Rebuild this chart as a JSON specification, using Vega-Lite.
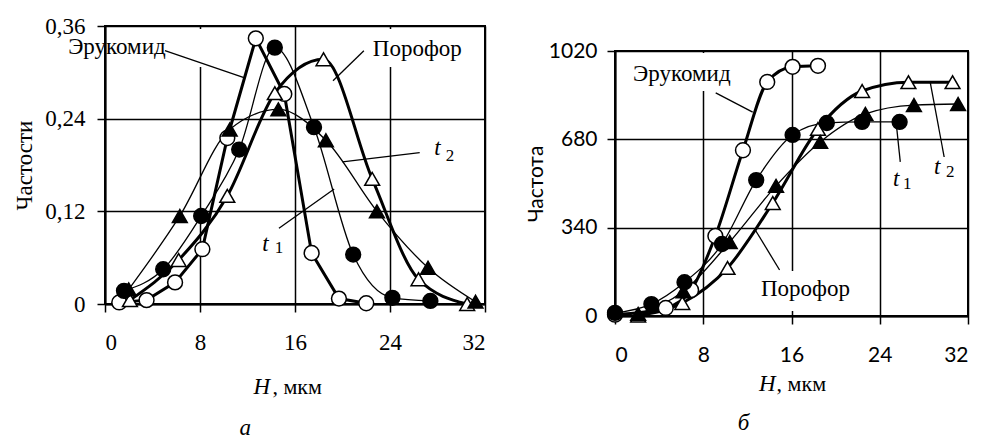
{
 "$schema": "https://vega.github.io/schema/vega-lite/v6.json",
 "padding": {"top": 14, "left": 12, "right": 0, "bottom": 0},
 "background": "white",
 "spacing": 37,
 "config": {
  "view": {"stroke": "black", "strokeWidth": 2},
  "axis": {"domainColor": "black", "domainWidth": 2, "gridColor": "black", "gridWidth": 1.5, "gridOpacity": 1, "tickColor": "black", "tickWidth": 1.5, "tickSize": 8, "labelColor": "black", "titleColor": "black", "titleFontWeight": "normal", "labelFontSize": 23, "labelFont": "Liberation Serif", "titleFont": "Liberation Serif", "titleFontSize": 23, "labelPadding": 10}
 },
 "datasets": {
  "aPts": [
   {"s": "Эрукомид", "x": 1.2, "y": 0.002}, {"s": "Эрукомид", "x": 3.5, "y": 0.005}, {"s": "Эрукомид", "x": 5.9, "y": 0.028}, {"s": "Эрукомид", "x": 8.2, "y": 0.071}, {"s": "Эрукомид", "x": 10.3, "y": 0.215}, {"s": "Эрукомид", "x": 12.7, "y": 0.344}, {"s": "Эрукомид", "x": 15.1, "y": 0.272}, {"s": "Эрукомид", "x": 17.4, "y": 0.066}, {"s": "Эрукомид", "x": 19.7, "y": 0.007}, {"s": "Эрукомид", "x": 22.0, "y": 0.001},
   {"s": "Порофор", "x": 2.1, "y": 0.005}, {"s": "Порофор", "x": 6.2, "y": 0.057}, {"s": "Порофор", "x": 10.3, "y": 0.14}, {"s": "Порофор", "x": 14.3, "y": 0.273}, {"s": "Порофор", "x": 18.4, "y": 0.317}, {"s": "Порофор", "x": 22.5, "y": 0.162}, {"s": "Порофор", "x": 26.4, "y": 0.032}, {"s": "Порофор", "x": 30.5, "y": 0.0},
   {"s": "t1", "x": 1.6, "y": 0.017}, {"s": "t1", "x": 4.9, "y": 0.045}, {"s": "t1", "x": 8.1, "y": 0.114}, {"s": "t1", "x": 11.3, "y": 0.2}, {"s": "t1", "x": 14.3, "y": 0.332}, {"s": "t1", "x": 17.6, "y": 0.229}, {"s": "t1", "x": 20.9, "y": 0.064}, {"s": "t1", "x": 24.2, "y": 0.008}, {"s": "t1", "x": 27.4, "y": 0.004},
   {"s": "t2", "x": 2.0, "y": 0.019}, {"s": "t2", "x": 6.3, "y": 0.114}, {"s": "t2", "x": 10.5, "y": 0.226}, {"s": "t2", "x": 14.6, "y": 0.252}, {"s": "t2", "x": 18.6, "y": 0.212}, {"s": "t2", "x": 22.9, "y": 0.12}, {"s": "t2", "x": 27.2, "y": 0.047}, {"s": "t2", "x": 31.2, "y": 0.003}
  ],
  "bPts": [
   {"s": "Эрукомид", "x": 0, "y": 5}, {"s": "Эрукомид", "x": 4.6, "y": 31}, {"s": "Эрукомид", "x": 6.9, "y": 100}, {"s": "Эрукомид", "x": 9.1, "y": 308}, {"s": "Эрукомид", "x": 11.6, "y": 638}, {"s": "Эрукомид", "x": 13.8, "y": 901}, {"s": "Эрукомид", "x": 16.1, "y": 959}, {"s": "Эрукомид", "x": 18.4, "y": 963},
   {"s": "Порофор", "x": 2.1, "y": 2}, {"s": "Порофор", "x": 6.1, "y": 50}, {"s": "Порофор", "x": 10.2, "y": 185}, {"s": "Порофор", "x": 14.3, "y": 435}, {"s": "Порофор", "x": 18.4, "y": 720}, {"s": "Порофор", "x": 22.4, "y": 866}, {"s": "Порофор", "x": 26.6, "y": 900}, {"s": "Порофор", "x": 30.6, "y": 900},
   {"s": "t1", "x": 0, "y": 12}, {"s": "t1", "x": 3.3, "y": 46}, {"s": "t1", "x": 6.3, "y": 130}, {"s": "t1", "x": 9.7, "y": 277}, {"s": "t1", "x": 12.8, "y": 523}, {"s": "t1", "x": 16.1, "y": 697}, {"s": "t1", "x": 19.2, "y": 743}, {"s": "t1", "x": 22.4, "y": 747}, {"s": "t1", "x": 25.8, "y": 747},
   {"s": "t2", "x": 2.1, "y": 8}, {"s": "t2", "x": 6.2, "y": 95}, {"s": "t2", "x": 10.4, "y": 285}, {"s": "t2", "x": 14.6, "y": 501}, {"s": "t2", "x": 18.6, "y": 670}, {"s": "t2", "x": 22.7, "y": 778}, {"s": "t2", "x": 27.1, "y": 812}, {"s": "t2", "x": 31.1, "y": 816}
  ],
  "aBox": [
   {"x": 0.2, "x2": 8.6, "y": 0.356, "y2": 0.307},
   {"x": 22.1, "x2": 30.6, "y": 0.356, "y2": 0.307}
  ],
  "bBox": [
   {"x": 1.2, "x2": 11.1, "y": 1012, "y2": 866},
   {"x": 12.9, "x2": 21.5, "y": 173, "y2": 19}
  ],
  "aLead": [
   {"x": 5.05, "y": 0.328, "x2": 11.7, "y2": 0.293},
   {"x": 21.8, "y": 0.328, "x2": 19.2, "y2": 0.289},
   {"x": 26.5, "y": 0.196, "x2": 20.0, "y2": 0.184},
   {"x": 14.65, "y": 0.098, "x2": 19.3, "y2": 0.149}
  ],
  "bLead": [
   {"x": 9.13, "y": 859, "x2": 12.48, "y2": 785},
   {"x": 14.92, "y": 177, "x2": 12.66, "y2": 335},
   {"x": 25.86, "y": 593, "x2": 25.5, "y2": 739},
   {"x": 29.84, "y": 612, "x2": 28.57, "y2": 901}
  ],
  "aTxt": [
   {"k": "n", "t": "Эрукомид", "x": 1.0, "y": 0.333},
   {"k": "n", "t": "Порофор", "x": 26.3, "y": 0.33},
   {"k": "i", "t": "t", "x": 28.0, "y": 0.202},
   {"k": "i", "t": "t", "x": 13.5, "y": 0.078},
   {"k": "i", "t": "а", "x": 11.8, "y": -0.16},
   {"k": "s", "t": "2", "x": 29.05, "y": 0.192},
   {"k": "s", "t": "1", "x": 14.65, "y": 0.0725},
   {"k": "ir", "t": "H", "x": 13.9, "y": -0.108},
   {"k": "l", "t": ", мкм", "x": 14.1, "y": -0.108}
  ],
  "bTxt": [
   {"k": "n", "t": "Эрукомид", "x": 6.06, "y": 932},
   {"k": "n", "t": "Порофор", "x": 17.27, "y": 104},
   {"k": "i", "t": "t", "x": 25.5, "y": 527},
   {"k": "i", "t": "t", "x": 29.2, "y": 574},
   {"k": "i", "t": "б", "x": 11.66, "y": -410},
   {"k": "s", "t": "1", "x": 26.5, "y": 508},
   {"k": "s", "t": "2", "x": 30.4, "y": 554},
   {"k": "ir", "t": "H", "x": 14.56, "y": -262},
   {"k": "l", "t": ", мкм", "x": 14.65, "y": -262}
  ]
 },
 "hconcat": [
  {
   "width": 380, "height": 278,
   "encoding": {
    "x": {"field": "x", "type": "quantitative", "scale": {"domain": [0, 32], "nice": false, "zero": false}, "axis": {"values": [0, 8, 16, 24, 32], "title": null, "labelPadding": 19}},
    "y": {"field": "y", "type": "quantitative", "scale": {"domain": [0, 0.36], "nice": false}, "axis": {"values": [0, 0.12, 0.24, 0.36], "title": "Частости", "titlePadding": 8, "labelPadding": 12, "labelExpr": "datum.value == 0 ? '0' : replace(format(datum.value, '.2f'), '.', ',')"}}
   },
   "layer": [
    {"data": {"name": "aBox"}, "mark": {"type": "rect", "fill": "white"}, "encoding": {"x2": {"field": "x2"}, "y2": {"field": "y2"}}},
    {"data": {"name": "aPts"}, "transform": [{"filter": "datum.s == 'Эрукомид'"}], "mark": {"type": "line", "color": "black", "strokeWidth": 3, "interpolate": "linear"}, "encoding": {"detail": {"field": "s"}}},
    {"data": {"name": "aPts"}, "transform": [{"filter": "datum.s == 'Порофор'"}], "mark": {"type": "line", "color": "black", "strokeWidth": 3, "interpolate": "monotone"}, "encoding": {"detail": {"field": "s"}}},
    {"data": {"name": "aPts"}, "transform": [{"filter": "datum.s == 't1' || datum.s == 't2'"}], "mark": {"type": "line", "color": "black", "strokeWidth": 1.3, "interpolate": "monotone"}, "encoding": {"detail": {"field": "s"}}},
    {"data": {"name": "aLead"}, "mark": {"type": "rule", "color": "black", "strokeWidth": 1.3}, "encoding": {"x2": {"field": "x2"}, "y2": {"field": "y2"}}},
    {"data": {"name": "aPts"}, "mark": {"type": "point", "filled": true, "stroke": "black", "strokeWidth": 1.5, "size": 220, "opacity": 1},
     "encoding": {
      "shape": {"field": "s", "type": "nominal", "scale": {"domain": ["Эрукомид", "Порофор", "t1", "t2"], "range": ["circle", "triangle-up", "circle", "triangle-up"]}, "legend": null},
      "fill": {"field": "s", "type": "nominal", "scale": {"domain": ["Эрукомид", "Порофор", "t1", "t2"], "range": ["white", "white", "black", "black"]}, "legend": null}
     }},
    {"data": {"name": "aTxt"}, "transform": [{"filter": "datum.k == 'n'"}], "mark": {"type": "text", "font": "Liberation Serif", "fontSize": 23, "color": "black", "align": "center", "baseline": "middle"}, "encoding": {"text": {"field": "t"}}},
    {"data": {"name": "aTxt"}, "transform": [{"filter": "datum.k == 'i'"}], "mark": {"type": "text", "font": "Liberation Serif", "fontSize": 23, "fontStyle": "italic", "color": "black", "align": "center", "baseline": "middle"}, "encoding": {"text": {"field": "t"}}},
    {"data": {"name": "aTxt"}, "transform": [{"filter": "datum.k == 's'"}], "mark": {"type": "text", "font": "Liberation Serif", "fontSize": 17, "color": "black", "align": "center", "baseline": "middle"}, "encoding": {"text": {"field": "t"}}},
    {"data": {"name": "aTxt"}, "transform": [{"filter": "datum.k == 'ir'"}], "mark": {"type": "text", "font": "Liberation Serif", "fontSize": 23, "fontStyle": "italic", "color": "black", "align": "right", "baseline": "middle"}, "encoding": {"text": {"field": "t"}}},
    {"data": {"name": "aTxt"}, "transform": [{"filter": "datum.k == 'l'"}], "mark": {"type": "text", "font": "Liberation Serif", "fontSize": 22, "color": "black", "align": "left", "baseline": "middle"}, "encoding": {"text": {"field": "t"}}}
   ]
  },
  {
   "spacing": 12,
   "vconcat": [
    {
     "width": 353, "height": 1,
     "view": {"stroke": null},
     "data": {"values": [{"a": 1}]},
     "mark": {"type": "point", "opacity": 0, "size": 1},
     "encoding": {}
    },
    {
     "width": 353, "height": 265,
     "encoding": {
      "x": {"field": "x", "type": "quantitative", "scale": {"domain": [0, 32], "nice": false, "zero": false}, "axis": {"values": [0, 8, 16, 24, 32], "title": null, "labelFont": "Lato", "labelFontSize": 21, "labelPadding": 20}},
      "y": {"field": "y", "type": "quantitative", "scale": {"domain": [0, 1020], "nice": false}, "axis": {"values": [0, 340, 680, 1020], "format": "d", "title": "Частота", "titleFont": "Lato", "titleFontSize": 21, "titlePadding": 2, "labelFont": "Lato", "labelFontSize": 21, "labelPadding": 10}}
     },
     "layer": [
      {"data": {"name": "bBox"}, "mark": {"type": "rect", "fill": "white"}, "encoding": {"x2": {"field": "x2"}, "y2": {"field": "y2"}}},
      {"data": {"name": "bPts"}, "transform": [{"filter": "datum.s == 'Эрукомид' || datum.s == 'Порофор'"}], "mark": {"type": "line", "color": "black", "strokeWidth": 3, "interpolate": "monotone"}, "encoding": {"detail": {"field": "s"}}},
      {"data": {"name": "bPts"}, "transform": [{"filter": "datum.s == 't1' || datum.s == 't2'"}], "mark": {"type": "line", "color": "black", "strokeWidth": 1.3, "interpolate": "monotone"}, "encoding": {"detail": {"field": "s"}}},
      {"data": {"name": "bLead"}, "mark": {"type": "rule", "color": "black", "strokeWidth": 1.3}, "encoding": {"x2": {"field": "x2"}, "y2": {"field": "y2"}}},
      {"data": {"name": "bPts"}, "mark": {"type": "point", "filled": true, "stroke": "black", "strokeWidth": 1.5, "size": 220, "opacity": 1},
       "encoding": {
        "shape": {"field": "s", "type": "nominal", "scale": {"domain": ["Эрукомид", "Порофор", "t1", "t2"], "range": ["circle", "triangle-up", "circle", "triangle-up"]}, "legend": null},
        "fill": {"field": "s", "type": "nominal", "scale": {"domain": ["Эрукомид", "Порофор", "t1", "t2"], "range": ["white", "white", "black", "black"]}, "legend": null}
       }},
      {"data": {"name": "bTxt"}, "transform": [{"filter": "datum.k == 'n'"}], "mark": {"type": "text", "font": "Liberation Serif", "fontSize": 23, "color": "black", "align": "center", "baseline": "middle"}, "encoding": {"text": {"field": "t"}}},
      {"data": {"name": "bTxt"}, "transform": [{"filter": "datum.k == 'i'"}], "mark": {"type": "text", "font": "Liberation Serif", "fontSize": 23, "fontStyle": "italic", "color": "black", "align": "center", "baseline": "middle"}, "encoding": {"text": {"field": "t"}}},
      {"data": {"name": "bTxt"}, "transform": [{"filter": "datum.k == 's'"}], "mark": {"type": "text", "font": "Liberation Serif", "fontSize": 17, "color": "black", "align": "center", "baseline": "middle"}, "encoding": {"text": {"field": "t"}}},
      {"data": {"name": "bTxt"}, "transform": [{"filter": "datum.k == 'ir'"}], "mark": {"type": "text", "font": "Liberation Serif", "fontSize": 23, "fontStyle": "italic", "color": "black", "align": "right", "baseline": "middle"}, "encoding": {"text": {"field": "t"}}},
      {"data": {"name": "bTxt"}, "transform": [{"filter": "datum.k == 'l'"}], "mark": {"type": "text", "font": "Liberation Serif", "fontSize": 22, "color": "black", "align": "left", "baseline": "middle"}, "encoding": {"text": {"field": "t"}}}
     ]
    }
   ]
  }
 ]
}
